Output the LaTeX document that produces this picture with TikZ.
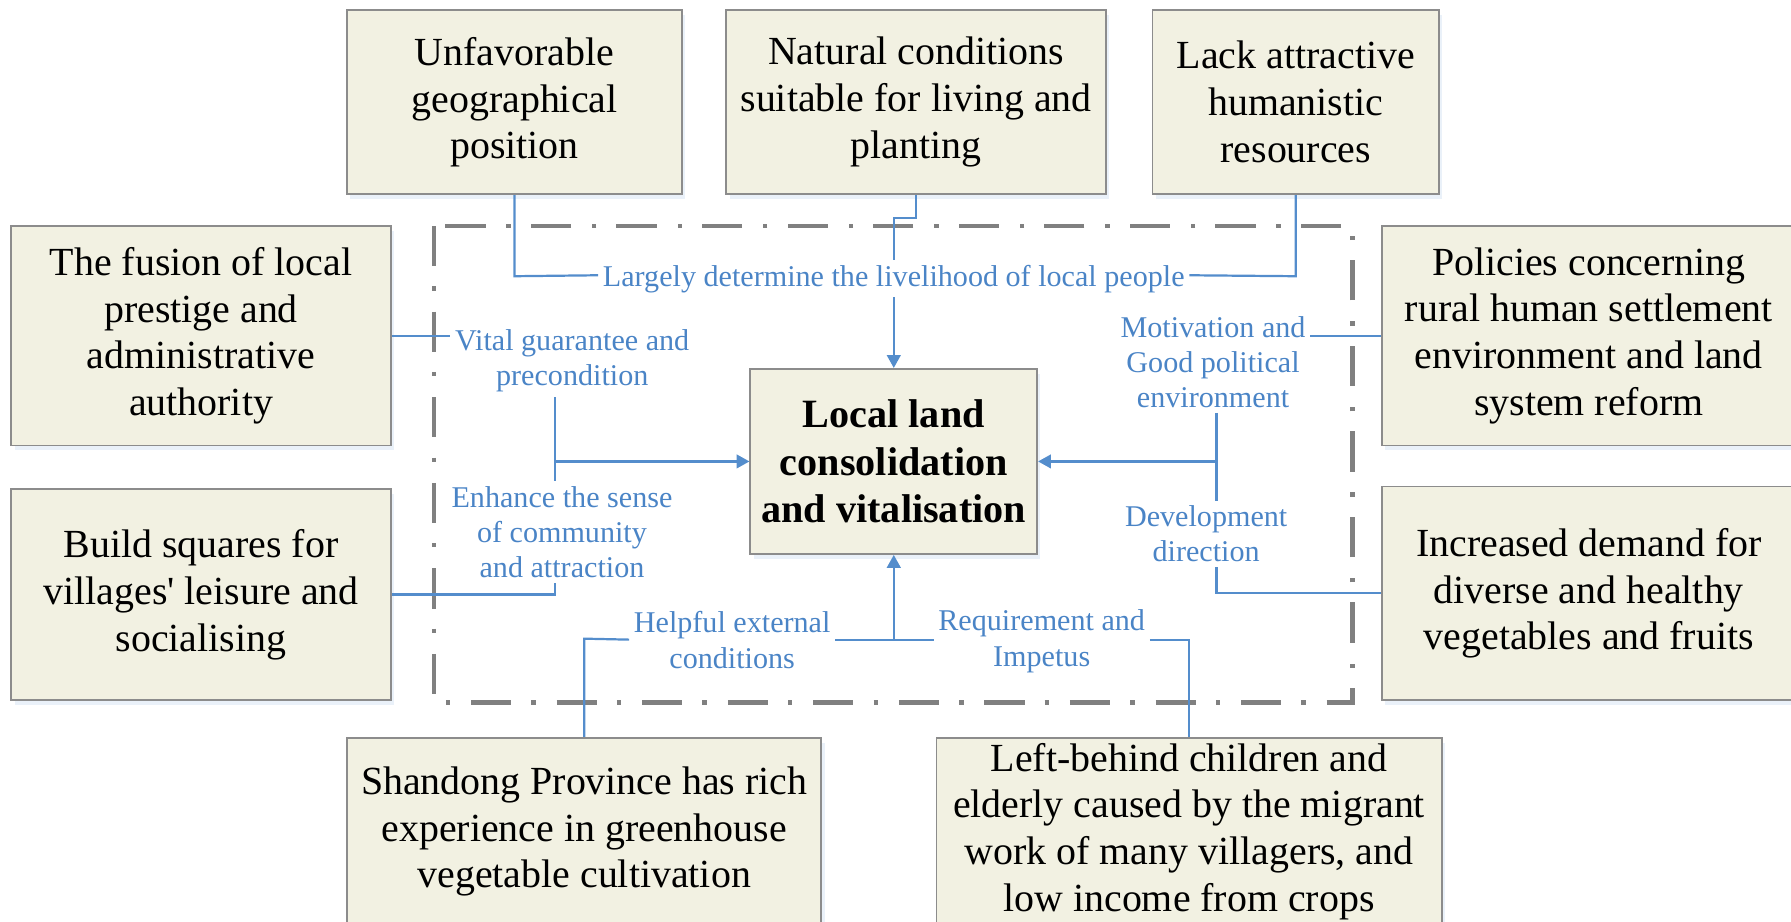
\documentclass[tikz,border=0pt]{standalone}
\usepackage{fontspec}
\setmainfont{Liberation Serif}
\usetikzlibrary{arrows.meta,shadows}
\definecolor{boxfill}{RGB}{242,241,226}
\definecolor{boxline}{RGB}{140,140,140}
\definecolor{linkblue}{RGB}{84,141,204}
\definecolor{labelblue}{RGB}{74,132,198}
\definecolor{framegray}{RGB}{128,128,128}

\begin{document}
\begin{tikzpicture}[x=0.01cm,y=-0.01cm,
  factor/.style={draw=boxline,line width=0.45pt,fill=boxfill,align=center,
    font=\fontsize{9.93}{11.67}\selectfont,inner sep=0pt,
    drop shadow={shadow xshift=0.8pt,shadow yshift=-1.2pt,fill=linkblue!40,opacity=0.3}},
  core/.style={factor,font=\fontsize{10}{11.9}\selectfont\bfseries},
  tag/.style={text=labelblue,align=center,font=\fontsize{7.5}{8.8}\selectfont,inner sep=1pt},
  link/.style={draw=linkblue,line width=0.55pt},
  feed/.style={link,-{Triangle[length=3.2pt,width=3.4pt]}},
  frame/.style={draw=framegray,line width=1.1pt,dash pattern=on 10pt off 5pt on 1.1pt off 5.2pt}
]
\useasboundingbox (0,0) rectangle (1568,807);
\clip (0,0) rectangle (1568,807);

% dash-dotted boundary of the local system
\draw[frame] (380,198) rectangle (1184,615);

% factor boxes
\node[factor,minimum width=2.93cm,minimum height=1.61cm] (unf) at (450.5,89.5) {Unfavorable\\geographical\\position};
\node[factor,minimum width=3.32cm,minimum height=1.61cm] (nat) at (802,89.5) {Natural conditions\\suitable for living and\\planting};
\node[factor,minimum width=2.51cm,minimum height=1.61cm] (lack) at (1134.5,89.5) {Lack attractive\\humanistic\\resources};
\node[factor,minimum width=3.32cm,minimum height=1.92cm] (fus) at (176,294) {The fusion of local\\prestige and\\administrative\\authority};
\node[factor,minimum width=3.62cm,minimum height=1.92cm] (pol) at (1391,294) {Policies concerning\\rural human settlement\\environment and land\\system reform};
\node[factor,minimum width=3.32cm,minimum height=1.85cm] (bld) at (176,520.5) {Build squares for\\villages\textquotesingle{} leisure and\\socialising};
\node[factor,minimum width=3.62cm,minimum height=1.87cm] (inc) at (1391,519.5) {Increased demand for\\diverse and healthy\\vegetables and fruits};
\node[factor,minimum width=4.15cm,minimum height=1.64cm] (shd) at (511.5,728) {Shandong Province has rich\\experience in greenhouse\\vegetable cultivation};
\node[factor,minimum width=4.42cm,minimum height=1.64cm] (lbc) at (1041,728) {Left-behind children and\\elderly caused by the migrant\\work of many villagers, and\\low income from crops};
\node[core,minimum width=2.51cm,minimum height=1.62cm] (core) at (782.5,404) {Local land\\consolidation\\and vitalisation};

% connector labels
\node[tag] (lv) at (782.5,244) {Largely determine the livelihood of local people};
\node[tag] (vg) at (501,316) {Vital guarantee and\\precondition};
\node[tag] (en) at (492,466) {Enhance the sense\\of community\\and attraction};
\node[tag] (mg) at (1062,317) {Motivation and\\Good political\\environment};
\node[tag] (dd) at (1056,467.5) {Development\\direction};
\node[tag] (he) at (641,560.5) {Helpful external\\conditions};
\node[tag] (ri) at (912,561.5) {Requirement and\\Impetus};

% junction points
\coordinate (lx) at (486,404);
\coordinate (rx) at (1065,404);

% top group
\draw[link] (unf.south) -- ++(0,71) -- (lv.west |- 0,241);
\draw[link] (lack.south) -- ++(0,71) -- (lv.east |- 0,241);
\draw[link] (nat.south) -- ++(0,20) -| (lv.north -| core.north);
\draw[feed] (lv.south -| core.north) -- (core.north);

% left group
\draw[link] (fus.east) -- (fus.east -| vg.west);
\draw[link] (vg.south -| lx) -- (en.north -| lx);
\draw[feed] (lx) -- (core.west);
\draw[link] (bld.east) -| (en.south -| lx);

% right group
\draw[link] (pol.west) -- (pol.west -| mg.east);
\draw[link] (mg.south -| rx) -- (dd.north -| rx);
\draw[feed] (rx) -- (core.east);
\draw[link] (inc.west) -| (dd.south -| rx);

% bottom group
\draw[link] (shd.north) -- ++(0,-86) -- (he.west |- 0,560);
\draw[link] (he.east |- 0,560) -- (ri.west |- 0,560);
\draw[feed] (core.south |- 0,560) -- (core.south);
\draw[link] (ri.east |- 0,560) -| (lbc.north);
\end{tikzpicture}
\end{document}
